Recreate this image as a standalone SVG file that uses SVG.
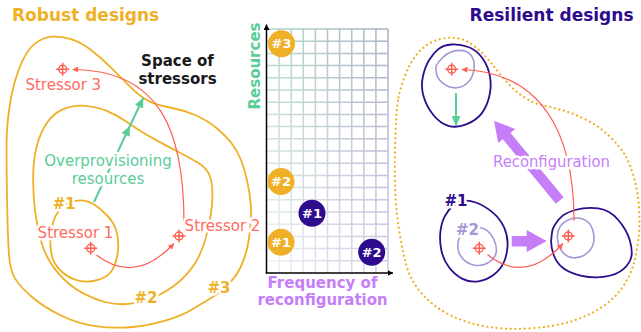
<svg xmlns="http://www.w3.org/2000/svg" width="641" height="332" viewBox="0 0 641 332">
<defs>
<style>
text{font-family:"DejaVu Sans",Verdana,sans-serif}
.b{font-weight:bold}
.halo{stroke:#fff;stroke-width:5;stroke-linejoin:round;paint-order:stroke}
.or{fill:none;stroke:#EFB027;stroke-width:1.8}
.dp{fill:none;stroke:#2D0B8C;stroke-width:1.8}
.lv{fill:none;stroke:#A596D8;stroke-width:1.6}
.red{fill:none;stroke:#FF5E50;stroke-width:1.2}
.grn{fill:none;stroke:#5ACD97;stroke-width:2}
.dot{fill:none;stroke:#EFB027;stroke-width:2.2;stroke-linecap:round;stroke-dasharray:0.1 4.6}
.tw{fill:#fff;font-size:13px;font-weight:bold;text-anchor:middle}
.cl{font-size:15px;font-weight:bold;text-anchor:middle}
</style>
<linearGradient id="gG" gradientUnits="userSpaceOnUse" x1="0" y1="29" x2="0" y2="273">
<stop offset="0" stop-color="#80c4a4" stop-opacity="0.6"/><stop offset="1" stop-color="#80c4a4" stop-opacity="0.1"/>
</linearGradient>
<linearGradient id="gP" gradientUnits="userSpaceOnUse" x1="267" y1="0" x2="388" y2="0">
<stop offset="0" stop-color="#a878d0" stop-opacity="0.03"/><stop offset="1" stop-color="#a878d0" stop-opacity="0.38"/>
</linearGradient>
<marker id="ar" markerUnits="userSpaceOnUse" markerWidth="7" markerHeight="6" refX="6" refY="3" orient="auto"><path d="M0,0L6,3L0,6z" fill="#FF5E50"/></marker>
<marker id="ag" markerUnits="userSpaceOnUse" markerWidth="10" markerHeight="9" refX="10" refY="4.5" orient="auto"><path d="M0,0L10,4.5L0,9z" fill="#5ACD97"/></marker>
<marker id="ak" markerUnits="userSpaceOnUse" markerWidth="6" markerHeight="6" refX="5.5" refY="3" orient="auto"><path d="M0,0L5.5,3L0,6z" fill="#000"/></marker>
<g id="xh" fill="none" stroke="#FF5E50" stroke-width="1.4"><circle r="4"/><path d="M-6.5,0H6.5M0,-6.5V6.5"/></g>
</defs>

<g id="titles">
<text x="12" y="21" class="b" font-size="17" fill="#EFB027">Robust designs</text>
<text x="633.5" y="21" class="b" font-size="17" fill="#2D0B8C" text-anchor="end">Resilient designs</text>
</g>

<g id="robust-contours">
<path id="contour-1" class="or" d="M69.5,202.5 Q76,200 82.15,200.35 Q88.3,200.7 94.15,204.5 Q100,208.3 106.65,215 Q113.3,221.7 115.8,229.2 Q118.3,236.7 118.3,245 Q118.3,253.3 115.8,261.65 Q113.3,270 108.3,274.65 Q103.3,279.3 93.3,281 Q83.3,282.7 75,279.7 Q66.7,276.7 60,270 Q53.3,263.3 51.65,255 Q50,246.7 50.35,238.35 Q50.7,230 52.85,223 Q55,216 59,210.5 Q63,205 69.5,202.5 Z"/>
<path id="contour-2" class="or" d="M105.85,302.25 Q115,304.5 124,304.25 Q133,304 146.5,300 Q160,296 173.35,286.35 Q186.7,276.7 195,263.35 Q203.3,250 207.5,231.65 Q211.7,213.3 212.35,199.15 Q213,185 210,176.5 Q207,168 198.5,163 Q190,158 178.5,152 Q167,146 158.5,141.35 Q150,136.7 141.65,131.7 Q133.3,126.7 125,120.85 Q116.7,115 106.7,110.85 Q96.7,106.7 85,105.85 Q73.3,105 63.3,109.15 Q53.3,113.3 46.65,123.3 Q40,133.3 36.65,146.65 Q33.3,160 33.15,176.5 Q33,193 34.85,209.85 Q36.7,226.7 41.7,243.35 Q46.7,260 58.35,273.35 Q70,286.7 83.35,293.35 Q96.7,300 105.85,302.25 Z"/>
<path id="contour-3" class="or" d="M211.5,297.85 Q205,301.7 192.5,309.2 Q180,316.7 161.65,321.7 Q143.3,326.7 126.65,327.5 Q110,328.3 93.35,325.8 Q76.7,323.3 60,315 Q43.3,306.7 31.65,296.7 Q20,286.7 15,278.35 Q10,270 9,255 Q8,240 7.5,220 Q7,200 6.75,180 Q6.5,160 6.6,142.5 Q6.7,125 10,104 Q13.3,83 20,66.5 Q26.7,50 35,43.65 Q43.3,37.3 51.65,36.65 Q60,36 70,38.85 Q80,41.7 90,49.2 Q100,56.7 110,66.7 Q120,76.7 130,86.7 Q140,96.7 148.35,100.85 Q156.7,105 170,107.5 Q183.3,110 195,115 Q206.7,120 215.85,127.5 Q225,135 231,142.5 Q237,150 241,160 Q245,170 247.5,182.5 Q250,195 250.85,205 Q251.7,215 250,230.85 Q248.3,246.7 244.15,258.35 Q240,270 235,276.65 Q230,283.3 224,288.65 Q218,294 211.5,297.85 Z"/>
</g>

<g id="resilient-shapes">
<path id="space-outline" class="dot" d="M398.5,97.5 Q400,90 403.35,80 Q406.7,70 411.7,61.65 Q416.7,53.3 423.35,47.5 Q430,41.7 440,39.2 Q450,36.7 458.35,38.35 Q466.7,40 475,46.65 Q483.3,53.3 490,61.65 Q496.7,70 505,80 Q513.3,90 523.3,96.65 Q533.3,103.3 541.65,105 Q550,106.7 561.65,110 Q573.3,113.3 586.65,120 Q600,126.7 610,136.7 Q620,146.7 625,155 Q630,163.3 634.15,178.3 Q638.3,193.3 639.15,210 Q640,226.7 638.35,240 Q636.7,253.3 633.35,265 Q630,276.7 621.65,288.35 Q613.3,300 600,308.35 Q586.7,316.7 570,321.7 Q553.3,326.7 530,328.35 Q506.7,330 486.7,326.65 Q466.7,323.3 450,315 Q433.3,306.7 421.65,293.35 Q410,280 405.85,263.35 Q401.7,246.7 398.85,228.35 Q396,210 395.25,190 Q394.5,170 395,150 Q395.5,130 396.25,117.5 Q397,105 398.5,97.5 Z"/>
<g id="design-top">
<path class="dp" d="M438.3,49.15 Q443.3,45 451.65,44.5 Q460,44 468.35,47 Q476.7,50 482.5,58.35 Q488.3,66.7 490,76.7 Q491.7,86.7 489.2,96.7 Q486.7,106.7 481.7,113.35 Q476.7,120 466.7,124.15 Q456.7,128.3 448.35,125.8 Q440,123.3 433.35,115 Q426.7,106.7 423.7,96.7 Q420.7,86.7 422.85,76.7 Q425,66.7 429.15,60 Q433.3,53.3 438.3,49.15 Z"/>
<path class="lv" d="M436,66.65 Q436.7,63.3 443.35,57 Q450,50.7 458.35,50.35 Q466.7,50 470.85,55 Q475,60 474.15,68.35 Q473.3,76.7 468.3,82 Q463.3,87.3 456.65,87.8 Q450,88.3 444.15,84.15 Q438.3,80 436.8,75 Q435.3,70 436,66.65 Z"/>
<use href="#xh" x="451.7" y="69.3"/>
</g>
<g id="design-bottom-left">
<path class="dp" d="M462.65,201 Q468.3,200 475.8,202.5 Q483.3,205 491.65,211.65 Q500,218.3 504.15,227.5 Q508.3,236.7 507.5,246.7 Q506.7,256.7 503.35,263.35 Q500,270 493.35,275 Q486.7,280 478.35,281.35 Q470,282.7 462.5,278.85 Q455,275 449.15,267.5 Q443.3,260 441.3,250 Q439.3,240 440.5,230.85 Q441.7,221.7 445,215.85 Q448.3,210 452.65,206 Q457,202 462.65,201 Z"/>
<path class="lv" d="M474,227.35 Q480,226.7 485,229.2 Q490,231.7 493.65,239.2 Q497.3,246.7 496.15,252.5 Q495,258.3 489.15,262.15 Q483.3,266 476.65,265.5 Q470,265 465,260.85 Q460,256.7 458.65,251.7 Q457.3,246.7 458.3,241.35 Q459.3,236 463.65,232 Q468,228 474,227.35 Z"/>
<use href="#xh" x="479.3" y="248.3"/>
</g>
<g id="design-bottom-right">
<path class="dp" d="M552.5,230 Q553.3,226.7 558.3,220 Q563.3,213.3 575,210 Q586.7,206.7 598.35,208.35 Q610,210 618.35,220 Q626.7,230 629.7,240 Q632.7,250 631.35,256.65 Q630,263.3 623.35,269.15 Q616.7,275 605,276.65 Q593.3,278.3 581.65,275.8 Q570,273.3 563.35,268.3 Q556.7,263.3 553.7,255 Q550.7,246.7 551.2,240 Q551.7,233.3 552.5,230 Z"/>
<path class="lv" d="M557.5,239.2 Q556.7,231.7 560,226.7 Q563.3,221.7 570,219.2 Q576.7,216.7 583.35,219.2 Q590,221.7 592.5,229.2 Q595,236.7 593.35,243.35 Q591.7,250 585.85,254.15 Q580,258.3 573.35,257.8 Q566.7,257.3 562.5,252 Q558.3,246.7 557.5,239.2 Z"/>
<use href="#xh" x="568.3" y="236"/>
</g>
</g>

<g id="stressors">
<use href="#xh" x="62.7" y="69.3"/>
<use href="#xh" x="90.7" y="248.3"/>
<use href="#xh" x="179" y="236"/>
</g>

<g id="chart">
<path fill="none" stroke="url(#gG)" stroke-width="1.5" d="M279.1,29V273M291.2,29V273M303.3,29V273M315.4,29V273M327.5,29V273M339.6,29V273M351.7,29V273M363.8,29V273M375.9,29V273M388,29V273M267,29H388M267,41.2H388M267,53.4H388M267,65.6H388M267,77.8H388M267,90H388M267,102.2H388M267,114.4H388M267,126.6H388M267,138.8H388M267,151H388M267,163.2H388M267,175.4H388M267,187.6H388M267,199.8H388M267,212H388M267,224.2H388M267,236.4H388M267,248.6H388M267,260.8H388"/>
<path fill="none" stroke="url(#gP)" stroke-width="1.5" d="M279.1,29V273M291.2,29V273M303.3,29V273M315.4,29V273M327.5,29V273M339.6,29V273M351.7,29V273M363.8,29V273M375.9,29V273M388,29V273M267,29H388M267,41.2H388M267,53.4H388M267,65.6H388M267,77.8H388M267,90H388M267,102.2H388M267,114.4H388M267,126.6H388M267,138.8H388M267,151H388M267,163.2H388M267,175.4H388M267,187.6H388M267,199.8H388M267,212H388M267,224.2H388M267,236.4H388M267,248.6H388M267,260.8H388"/>
<path fill="none" stroke="#000" stroke-width="1.5" d="M266.5,273.5V24.5" marker-end="url(#ak)"/>
<path fill="none" stroke="#000" stroke-width="1.5" d="M265.8,273H393" marker-end="url(#ak)"/>
<text transform="translate(259.5,66) rotate(-90)" class="cl" fill="#5ACD97">Resources</text>
<text x="322.5" y="287.5" class="cl" fill="#C67EF8">Frequency of</text>
<text x="322.5" y="305" class="cl" fill="#C67EF8" textLength="130" lengthAdjust="spacingAndGlyphs">reconfiguration</text>
</g>

<g id="point-r3"><circle cx="281.5" cy="43.7" r="13.5" fill="#EFB027"/><text x="281.5" y="48.3" class="tw">#3</text></g>
<g id="point-r2"><circle cx="281" cy="181.5" r="13.5" fill="#EFB027"/><text x="281" y="186.1" class="tw">#2</text></g>
<g id="point-r1"><circle cx="281" cy="242.3" r="13.5" fill="#EFB027"/><text x="281" y="246.9" class="tw">#1</text></g>
<g id="point-s1"><circle cx="312" cy="213.3" r="13.5" fill="#2D0B8C"/><text x="312" y="217.9" class="tw">#1</text></g>
<g id="point-s2"><circle cx="371.7" cy="252.3" r="13.5" fill="#2D0B8C"/><text x="371.7" y="256.9" class="tw">#2</text></g>

<g id="connectors">
<path class="red" d="M184,223 C184,130 160,70 72.5,69.5" marker-end="url(#ar)"/>
<path class="red" d="M96.5,255 Q135,285 174,243.5" marker-end="url(#ar)"/>
<path class="red" d="M574,221 C574,130 540,72 461.5,69.5" marker-end="url(#ar)"/>
<path class="red" d="M487.5,254.5 Q525,285 563,243.5" marker-end="url(#ar)"/>
<path class="grn" d="M94,202 L129.9,126 L143.3,97.7" marker-mid="url(#ag)" marker-end="url(#ag)"/>
<path class="grn" d="M456,93 L456,126" marker-end="url(#ag)"/>
<polygon fill="#C67EF8" points="494,120.7 515.2,129.1 510.6,132.9 563.6,197.3 555.8,203.7 502.8,139.3 498.2,143.1"/>
<polygon fill="#C67EF8" points="511.7,236 526.7,236 526.7,230 546.7,241 526.7,252 526.7,246.5 511.7,246.5"/>
</g>

<g id="labels">
<text x="177.5" y="65.7" class="cl" fill="#1a1a1a">Space of</text>
<text x="177.5" y="84" class="cl" fill="#1a1a1a">stressors</text>
<text x="63.3" y="90" font-size="15" fill="#FF6B5E" text-anchor="middle">Stressor 3</text>
<text x="75.5" y="238.3" font-size="15" fill="#FF6B5E" text-anchor="middle" class="halo">Stressor 1</text>
<text x="222.5" y="230.7" font-size="15" fill="#FF6B5E" text-anchor="middle" class="halo">Stressor 2</text>
<text x="108" y="165.7" font-size="15" fill="#5ACD97" text-anchor="middle" class="halo">Overprovisioning</text>
<text x="108" y="184.3" font-size="15" fill="#5ACD97" text-anchor="middle" class="halo">resources</text>
<text x="64.2" y="208.5" class="cl halo" fill="#EFB027">#1</text>
<text x="146" y="302.7" class="cl halo" fill="#EFB027">#2</text>
<text x="219" y="292.7" class="cl halo" fill="#EFB027">#3</text>
<text x="551.5" y="166.7" font-size="15" fill="#C67EF8" text-anchor="middle" class="halo" textLength="117" lengthAdjust="spacingAndGlyphs">Reconfiguration</text>
<text x="456" y="205.7" class="cl halo" fill="#2D0B8C">#1</text>
<text x="467.5" y="235" class="cl halo" fill="#A596D8">#2</text>
</g>
</svg>
